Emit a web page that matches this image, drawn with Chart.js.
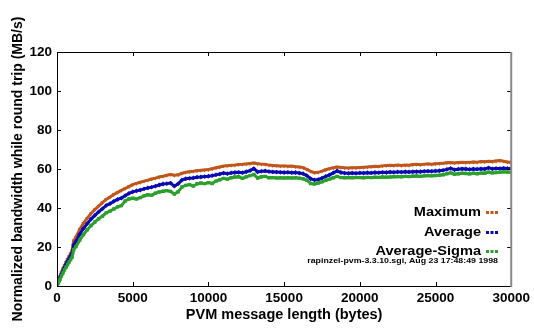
<!DOCTYPE html>
<html lang="en">
<head>
    <meta charset="UTF-8">
    <title>PVM round trip bandwidth</title>
    <script src="https://cdnjs.cloudflare.com/ajax/libs/Chart.js/4.4.0/chart.umd.min.js"></script>
    <style>
        html, body { margin: 0; padding: 0; background: #fff; }
        .chart-container { width: 534px; height: 329px; }
    </style>
</head>
<body>
    <div class="chart-container">
        <canvas id="bwChart"></canvas>
    </div>

    <script>
        // message lengths (bytes)
        const lengths = [0, 100, 200, 300, 400, 500, 600, 700, 800, 900, 1000, 1100,
            1250, 1500, 1750, 2000, 2250, 2500, 2750, 3000, 3250, 3500, 3750, 4000, 4250, 4500, 4750,
            5000, 5250, 5500, 5750, 6000, 6250, 6500, 6750, 7000, 7250, 7500, 7750,
            8000, 8250, 8500, 8750, 9000, 9250, 9500, 9750, 10000, 10250, 10500, 10750,
            11000, 11250, 11500, 11750, 12000, 12250, 12500, 12750, 13000, 13250, 13500, 13750,
            14000, 14250, 14500, 14750, 15000, 15250, 15500, 15750, 16000, 16250, 16500, 16750,
            17000, 17250, 17500, 17750, 18000, 18250, 18500, 18750, 19000, 19250, 19500, 19750,
            20000, 20250, 20500, 20750, 21000, 21250, 21500, 21750, 22000, 22250, 22500, 22750,
            23000, 23250, 23500, 23750, 24000, 24250, 24500, 24750, 25000, 25250, 25500, 25750,
            26000, 26250, 26500, 26750, 27000, 27250, 27500, 27750, 28000, 28250, 28500, 28750,
            29000, 29250, 29500, 29750, 30000];

        const maximum = [0.5, 3.0, 5.0, 7.0, 8.9, 10.6, 12.2, 13.7, 15.2, 16.6, 18.2, 23.2,
            25.0, 29.0, 32.2, 34.8, 37.2, 39.2, 41.0, 42.8, 44.4, 45.6, 46.9, 48.0, 49.0, 50.0, 51.0,
            52.0, 52.6, 53.2, 53.8, 54.3, 54.9, 55.3, 55.9, 56.3, 56.8, 57.2, 56.8,
            57.0, 57.8, 58.3, 58.6, 58.8, 59.1, 59.3, 59.5, 59.7, 60.1, 60.6, 61.0,
            61.5, 61.7, 61.9, 62.0, 62.3, 62.4, 62.6, 62.8, 63.1, 62.7, 62.5, 62.4,
            62.0, 61.8, 61.7, 61.5, 61.6, 61.4, 61.5, 61.2, 61.0, 60.7, 59.8, 58.8,
            58.1, 58.3, 58.9, 59.6, 60.2, 60.6, 61.0, 60.8, 60.6, 60.5, 60.7, 60.6,
            60.8, 60.9, 61.0, 61.2, 61.4, 61.3, 61.6, 61.8, 61.9, 61.8, 62.0, 61.8,
            62.0, 61.9, 62.3, 62.4, 62.2, 62.5, 62.6, 62.5, 62.7, 62.8, 63.0, 63.2,
            63.3, 63.1, 63.3, 63.5, 63.3, 63.4, 63.6, 63.5, 63.8, 63.7, 64.0, 63.8,
            64.1, 64.3, 64.0, 63.6, 63.3];

        const average = [0.0, 2.2, 4.3, 6.2, 7.9, 9.6, 11.1, 12.6, 14.0, 15.4, 16.8, 21.0,
            22.8, 26.5, 29.5, 32.0, 34.3, 36.2, 38.0, 39.6, 41.3, 42.2, 43.4, 44.4, 45.1, 46.3, 47.5,
            48.3, 48.8, 49.2, 49.8, 50.3, 50.7, 51.2, 51.8, 52.3, 52.5, 52.8, 51.2,
            52.4, 54.3, 55.0, 55.2, 55.4, 55.8, 55.9, 56.1, 56.3, 56.6, 57.0, 57.4,
            57.9, 57.6, 58.0, 58.2, 58.3, 58.1, 58.6, 59.2, 60.2, 58.5, 58.8, 59.0,
            58.7, 58.5, 58.4, 58.3, 58.2, 58.3, 58.1, 58.2, 57.9, 57.6, 56.6, 55.0,
            54.4, 54.6, 55.3, 56.2, 57.0, 58.0, 59.0, 58.2, 57.9, 57.8, 57.9, 57.8,
            58.0, 57.9, 58.1, 58.0, 58.2, 58.1, 58.3, 58.2, 58.4, 58.3, 58.5, 58.4,
            58.6, 58.5, 58.6, 58.7, 58.6, 58.8, 58.9, 58.8, 59.0, 59.1, 59.3, 59.8,
            60.3, 59.6, 59.9, 60.1, 60.0, 59.8, 60.0, 59.9, 60.1, 60.0, 60.6, 60.1,
            60.3, 60.2, 60.4, 60.3, 60.2];

        const avgSigma = [0.0, 1.6, 3.4, 5.2, 6.8, 8.3, 9.7, 11.0, 12.3, 13.6, 14.8, 18.6,
            20.2, 23.5, 26.4, 28.8, 31.0, 32.8, 34.5, 35.8, 37.5, 38.4, 39.5, 40.6, 41.2, 43.6, 44.6,
            45.0, 44.6, 45.3, 46.2, 46.8, 46.5, 47.6, 48.2, 48.6, 48.9, 48.5, 47.2,
            48.3, 50.8, 51.6, 52.0, 51.2, 52.4, 52.8, 52.5, 53.0, 52.6, 53.8, 54.5,
            55.2, 54.8, 55.5, 55.9, 56.0, 55.2, 56.0, 56.6, 57.2, 55.4, 56.0, 56.2,
            55.5, 55.6, 55.4, 55.5, 55.4, 55.5, 55.4, 55.5, 55.3, 55.0, 54.2, 52.6,
            52.3, 52.8, 53.4, 54.2, 54.8, 55.5, 56.2, 55.6, 55.5, 55.6, 55.5, 55.6,
            55.6, 55.5, 55.7, 55.6, 55.8, 55.7, 55.9, 55.8, 55.9, 56.0, 56.1, 56.0,
            56.2, 56.1, 56.3, 56.4, 56.2, 56.5, 56.6, 56.5, 56.7, 56.8, 57.0, 57.6,
            58.0, 57.3, 57.6, 57.8, 57.7, 57.5, 57.8, 57.6, 57.9, 57.8, 58.4, 58.0,
            58.2, 58.3, 58.5, 58.4, 58.3];

        const seriesNames = ['Maximum', 'Average', 'Average-Sigma'];
        const seriesColors = ['#c0561a', '#0a0ab4', '#2ca02c'];
        const annotation = 'rapinzel-pvm-3.3.10.sgi, Aug 23 17:48:49 1998';

        function toPoints(values) {
            return lengths.map((x, i) => ({ x: x, y: values[i] }));
        }

        function makeSet(i, values, style, rot) {
            return {
                label: seriesNames[i],
                data: toPoints(values),
                showLine: true,
                borderColor: seriesColors[i],
                backgroundColor: seriesColors[i],
                borderWidth: 3,
                pointStyle: style,
                rotation: rot,
                pointRadius: 2.4,
                pointBorderWidth: 0,
                order: 3 - i
            };
        }

        // box, inward ticks, key and stamp (drawn like the original plot)
        const frame = {
            id: 'frame',
            afterDraw(chart) {
                const ctx = chart.ctx;
                const a = chart.chartArea;
                const xs = chart.scales.x, ys = chart.scales.y;
                ctx.save();
                ctx.strokeStyle = '#000';
                ctx.lineWidth = 1;
                ctx.beginPath();
                ctx.moveTo(a.right, a.top + 0.5);
                ctx.lineTo(a.left + 0.5, a.top + 0.5);
                ctx.lineTo(a.left + 0.5, a.bottom + 0.5);
                ctx.lineTo(a.right, a.bottom + 0.5);
                xs.ticks.forEach(t => {
                    const px = Math.round(xs.getPixelForValue(t.value)) + 0.5;
                    ctx.moveTo(px, a.bottom); ctx.lineTo(px, a.bottom - 4);
                    ctx.moveTo(px, a.top); ctx.lineTo(px, a.top + 4);
                });
                ys.ticks.forEach(t => {
                    const py = Math.round(ys.getPixelForValue(t.value)) + 0.5;
                    ctx.moveTo(a.left, py); ctx.lineTo(a.left + 4, py);
                    ctx.moveTo(a.right, py); ctx.lineTo(a.right - 4, py);
                });
                ctx.stroke();
                ctx.strokeStyle = '#888';
                ctx.lineWidth = 2;
                ctx.beginPath();
                ctx.moveTo(a.right, a.top);
                ctx.lineTo(a.right, a.bottom + 1);
                ctx.stroke();

                // key
                ctx.font = 'bold 13px "Liberation Sans", Arial, sans-serif';
                ctx.textAlign = 'right';
                ctx.textBaseline = 'middle';
                const keyY = [212, 232, 251];
                for (let i = 0; i < 3; i++) {
                    ctx.fillStyle = '#000';
                    ctx.save();
                    ctx.translate(481, keyY[i]);
                    ctx.scale(1.12, 1);
                    ctx.fillText(seriesNames[i], 0, 0);
                    ctx.restore();
                    ctx.fillStyle = seriesColors[i];
                    for (let k = 0; k < 3; k++) {
                        ctx.fillRect(486 + k * 4.5, keyY[i] - 1, 3, 3);
                    }
                }
                ctx.fillStyle = '#000';
                ctx.font = 'bold 8px "Liberation Sans", Arial, sans-serif';
                ctx.save();
                ctx.translate(498, 261);
                ctx.scale(1.1, 1);
                ctx.fillText(annotation, 0, 0);
                ctx.restore();
                ctx.restore();
            }
        };

        const tickFont = { family: '"Liberation Sans", Arial, sans-serif', size: 13.5, weight: 'bold' };

        const bwChart = new Chart(document.getElementById('bwChart'), {
            type: 'scatter',
            data: {
                datasets: [
                    makeSet(0, maximum, 'triangle', 180),
                    makeSet(1, average, 'rectRot', 0),
                    makeSet(2, avgSigma, 'rect', 0)
                ]
            },
            options: {
                responsive: true,
                maintainAspectRatio: false,
                animation: false,
                layout: { padding: { top: 52, right: 21, left: 0, bottom: 0 } },
                plugins: { legend: { display: false }, tooltip: { enabled: false } },
                scales: {
                    x: {
                        type: 'linear', min: 0, max: 30000,
                        grid: { display: false, drawTicks: false }, border: { display: false },
                        ticks: { stepSize: 5000, color: '#000', font: tickFont, padding: 4, maxRotation: 0, autoSkip: false,
                            callback: v => String(v) },
                        title: { display: true, text: 'PVM message length (bytes)', color: '#000',
                            font: { family: '"Liberation Sans", Arial, sans-serif', size: 14.5, weight: 'bold' },
                            padding: { top: 0, bottom: 5 } },
                        afterFit: s => { s.height = 43; }
                    },
                    y: {
                        min: 0, max: 120,
                        grid: { display: false, drawTicks: false }, border: { display: false },
                        ticks: { stepSize: 20, color: '#000', font: tickFont, padding: 5,
                            callback: v => String(v) },
                        title: { display: true, text: 'Normalized bandwidth while round trip (MB/s)', color: '#000',
                            font: { family: '"Liberation Sans", Arial, sans-serif', size: 14, weight: 'bold' },
                            padding: { top: 10, bottom: 0 } },
                        afterFit: s => { s.width = 57; }
                    }
                }
            },
            plugins: [frame]
        });
    </script>
</body>
</html>
